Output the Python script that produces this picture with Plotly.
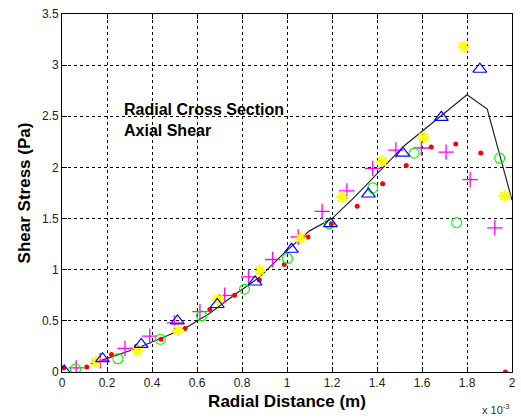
import numpy as np
import plotly.graph_objects as go

SCALE = 1e-3  # radial distance values below are in units of 1e-3 m

red_x = [0.007, 0.11, 0.22, 0.33, 0.44, 0.547, 0.657, 0.767, 0.877, 0.988,
         1.093, 1.197, 1.312, 1.425, 1.53, 1.641, 1.75, 1.861, 1.971]
red_y = [0.04, 0.05, 0.17, 0.25, 0.32, 0.425, 0.61, 0.75, 0.90, 1.05,
         1.32, 1.45, 1.62, 1.84, 2.02, 2.20, 2.23, 2.14, 0.0]

mag_x = [0.063, 0.17, 0.28, 0.39, 0.50, 0.613, 0.723, 0.83, 0.936, 1.05,
         1.156, 1.266, 1.381, 1.484, 1.597, 1.707, 1.814, 1.924]
mag_y = [0.04, 0.11, 0.23, 0.35, 0.48, 0.59, 0.75, 0.93, 1.10, 1.32,
         1.57, 1.77, 1.99, 2.17, 2.19, 2.15, 1.88, 1.41]

yel_x = [0.15, 0.334, 0.515, 0.694, 0.88, 1.06, 1.245, 1.422, 1.607, 1.785, 1.967]
yel_y = [0.10, 0.21, 0.41, 0.71, 0.99, 1.31, 1.71, 2.06, 2.29, 3.18, 1.72]

grn_x = [0.06, 0.249, 0.437, 0.62, 0.811, 1.002, 1.188, 1.381, 1.565, 1.754, 1.945]
grn_y = [0.03, 0.13, 0.32, 0.55, 0.81, 1.11, 1.45, 1.80, 2.14, 1.46, 2.09]

blu_x = [0.01, 0.18, 0.352, 0.513, 0.69, 0.858, 1.02, 1.193, 1.362, 1.515, 1.686, 1.857]
blu_y = [0.01, 0.13, 0.27, 0.50, 0.66, 0.88, 1.20, 1.45, 1.74, 2.14, 2.49, 2.96]

line_x = [0.13, 0.22, 0.33, 0.44, 0.55, 0.66, 0.77, 0.88, 0.99, 1.10, 1.20,
          1.30, 1.52, 1.80, 1.89, 2.00]
line_y = [0.08, 0.15, 0.23, 0.33, 0.43, 0.58, 0.76, 0.93, 1.17, 1.38, 1.50,
          1.71, 2.21, 2.71, 2.57, 1.68]

x_ticks = [0, 0.2, 0.4, 0.6, 0.8, 1.0, 1.2, 1.4, 1.6, 1.8, 2.0]
x_tick_labels = ["0", "0.2", "0.4", "0.6", "0.8", "1", "1.2", "1.4", "1.6", "1.8", "2"]
y_ticks = [0, 0.5, 1, 1.5, 2, 2.5, 3, 3.5]
y_tick_labels = ["0", "0.5", "1", "1.5", "2", "2.5", "3", "3.5"]

def sx(v):
    return np.array(v) * SCALE

fig = go.Figure()
fig.add_trace(go.Scatter(x=sx(line_x), y=line_y, mode="lines",
                         line=dict(color="#222222", width=1.2)))
fig.add_trace(go.Scatter(x=sx(red_x), y=red_y, mode="markers",
                         marker=dict(symbol="circle", size=5, color="#FF0000",
                                     line=dict(width=0))))
fig.add_trace(go.Scatter(x=sx(mag_x), y=mag_y, mode="markers",
                         marker=dict(symbol="cross-thin-open", size=11, color="#FF00FF",
                                     line=dict(color="#FF00FF", width=1.3))))
fig.add_trace(go.Scatter(x=sx(yel_x), y=yel_y, mode="markers",
                         marker=dict(symbol="asterisk-open", size=10, color="#FFFF00",
                                     line=dict(color="#FFFF00", width=2.2))))
fig.add_trace(go.Scatter(x=sx(grn_x), y=grn_y, mode="markers",
                         marker=dict(symbol="circle-open", size=10, color="#00FF00",
                                     line=dict(color="#00FF00", width=1.2))))
fig.add_trace(go.Scatter(x=sx(blu_x), y=blu_y, mode="markers",
                         marker=dict(symbol="triangle-up-open", size=12, color="#0000FF",
                                     line=dict(color="#0000FF", width=1.2))))

axis_common = dict(showgrid=True, gridcolor="black", griddash="3px,3px", gridwidth=1,
                   showline=True, linecolor="black", linewidth=1, mirror="ticks",
                   ticks="inside", ticklen=5, tickcolor="black",
                   zeroline=False, tickfont=dict(family="Liberation Sans, Arial", size=12, color="#222"))

fig.update_xaxes(range=[0, 2e-3], tickvals=sx(x_ticks), ticktext=x_tick_labels,
                 title=dict(text="<b>Radial Distance (m)</b>", standoff=5,
                            font=dict(family="Liberation Sans, Arial", size=17, color="black")),
                 **axis_common)
fig.update_yaxes(range=[0, 3.5], tickvals=y_ticks, ticktext=y_tick_labels,
                 title=dict(text="<b>Shear Stress (Pa)</b>", standoff=6,
                            font=dict(family="Liberation Sans, Arial", size=17, color="black")),
                 **axis_common)

fig.add_annotation(x=0.266e-3, y=2.46, xref="x", yref="y", xanchor="left", yanchor="middle",
                   text="<b>Radial Cross Section<br>Axial Shear</b>", showarrow=False, align="left",
                   font=dict(family="Liberation Sans, Arial", size=16, color="black"))
fig.add_annotation(x=1.0, y=0, xref="paper", yref="paper", xanchor="right", yanchor="top",
                   yshift=-28, text="x 10<sup>-3</sup>", showarrow=False,
                   font=dict(family="Liberation Sans, Arial", size=11, color="#333"))

fig.update_layout(width=521, height=419, showlegend=False,
                  paper_bgcolor="white", plot_bgcolor="white",
                  margin=dict(l=62, r=5, t=14, b=47))

fig.write_html("out.html")
